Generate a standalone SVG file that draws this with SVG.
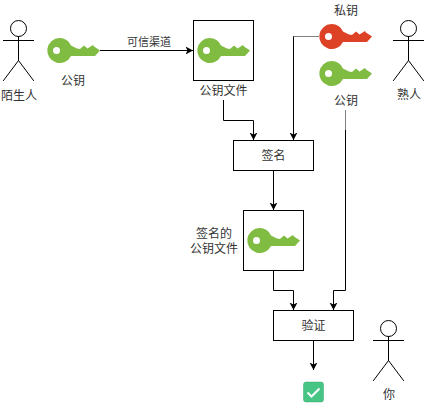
<svg xmlns="http://www.w3.org/2000/svg" width="424" height="410" viewBox="0 0 424 410">
<style>
text{font-family:"Liberation Sans","Noto Sans CJK SC",sans-serif;font-size:12px;fill:#333;text-anchor:middle}
.s{font-size:11px}
.b{fill:#fff;stroke:#000;stroke-width:1}
.a{fill:none;stroke:#000;stroke-width:1;stroke-linecap:square}
.c{fill:none;stroke:#000;stroke-width:1;marker-end:url(#ah)}
.g{stroke:#808080}
</style>
<defs>
<marker id="ah" viewBox="0 0 8 10" refX="7.500" refY="5" markerWidth="8" markerHeight="10" markerUnits="userSpaceOnUse" orient="auto"><path d="M0 1L7.500 5L0 9L2 5Z" fill="#000"/></marker>
<path id="key" fill-rule="evenodd" d="M12.500 0A12.500 12.500 0 0 1 24 7.500L30 10.500L33 11L37 7.500L40.500 10.500L46 7L47 8.500L53 12.500L48 18L24 18A12.500 12.500 0 1 1 12.500 0ZM9.500 9A3.500 3.500 0 1 0 9.500 16A3.500 3.500 0 1 0 9.500 9Z"/>
<g id="actor"><circle cx="15" cy="8" r="8" class="b"/><path class="a" d="M15 16V40M0 20H30M15 40L0 60M15 40L30 60"/></g>
</defs>
<g id="connectors">
<path class="c" d="M100 50.500H193"/>
<path class="c" d="M223.500 100V120.500H253.500V140"/>
<path class="c" d="M273.500 170.500V210"/>
<path class="c" d="M319 36.500H293.500V140"/>
<path class="c" d="M345.500 110V290.500H333.500V310"/>
<path class="c" d="M273.500 270.500V290.500H293.500V310"/>
<path class="c" d="M313.500 340.500V370"/>
<path class="g" fill="none" d="M319 36.500H294M345.500 110V130"/>
<text class="s" x="149" y="46">可信渠道</text>
</g>
<g id="actor-stranger"><use href="#actor" x="3.500" y="20.500"/><text x="19" y="100">陌生人</text></g>
<g id="key-public"><use href="#key" x="47" y="38" fill="#80bc42"/><text x="73" y="85">公钥</text></g>
<g id="file-public"><rect class="b" x="193.500" y="20.500" width="60" height="60"/><use href="#key" x="197" y="38" fill="#80bc42"/><text x="223.500" y="95">公钥文件</text></g>
<g id="key-private"><use href="#key" x="319" y="24" fill="#dd4126"/><text x="346" y="15">私钥</text></g>
<g id="key-public-2"><use href="#key" x="319" y="61" fill="#80bc42"/><text x="346" y="105">公钥</text></g>
<g id="actor-friend"><use href="#actor" x="393.500" y="20.500"/><text x="409" y="99">熟人</text></g>
<g id="sign"><rect class="b" x="233.500" y="140.500" width="80" height="30"/><text x="273.500" y="160">签名</text></g>
<g id="file-signed"><rect class="b" x="243.500" y="210.500" width="60" height="60"/><use href="#key" x="247" y="228" fill="#80bc42"/><text x="214" y="238">签名的</text><text x="214" y="253">公钥文件</text></g>
<g id="verify"><rect class="b" x="273.500" y="310.500" width="80" height="30"/><text x="313.500" y="330">验证</text></g>
<g id="actor-you"><use href="#actor" x="373.500" y="320.500"/><text x="389" y="399">你</text></g>
<g id="check"><rect x="303.500" y="382" width="20" height="20" rx="2.500" fill="#47c584" stroke="#3aa873" stroke-width="0.500"/><path d="M307.500 392.500L311.500 396.500L319.500 388.500" fill="none" stroke="#fff" stroke-width="2"/></g>
</svg>
